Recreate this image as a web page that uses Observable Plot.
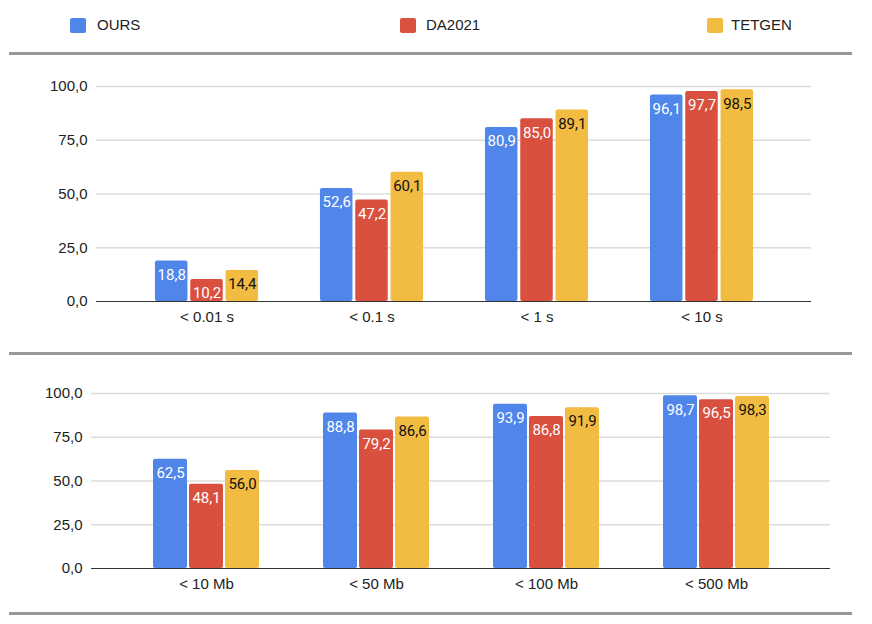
<!DOCTYPE html>
<html>
<head>
<meta charset="utf-8">
<script src="https://cdn.jsdelivr.net/npm/d3@7"></script>
<script src="https://cdn.jsdelivr.net/npm/@observablehq/plot@0.6"></script>
<style>
  html, body { margin: 0; padding: 0; background: #fff; }
  #root { position: relative; width: 872px; height: 624px; overflow: hidden; font-family: "Liberation Sans", Arial, sans-serif; }
  .sep { position: absolute; left: 9px; width: 843px; height: 3px; background: #999; }
  .leg { position: absolute; top: 18px; width: 16px; height: 15px; border-radius: 2px; }
  .legt { position: absolute; top: 16px; font-size: 15px; color: #222; line-height: 18px; }
  .panel { position: absolute; left: 0; }
</style>
</head>
<body>
<div id="root"></div>
<script>
const series = ["OURS", "DA2021", "TETGEN"];
const colors = ["#5086EA", "#D9503F", "#F2BC42"];
const labelColors = ["#ffffff", "#ffffff", "#111111"];
const yTicks = [0, 25, 50, 75, 100];

const cats1 = ["< 0.01 s", "< 0.1 s", "< 1 s", "< 10 s"];
const ours1 = [18.8, 52.6, 80.9, 96.1];
const da1 = [10.2, 47.2, 85.0, 97.7];
const tet1 = [14.4, 60.1, 89.1, 98.5];

const cats2 = ["< 10 Mb", "< 50 Mb", "< 100 Mb", "< 500 Mb"];
const ours2 = [62.5, 88.8, 93.9, 98.7];
const da2 = [48.1, 79.2, 86.8, 96.5];
const tet2 = [56.0, 86.6, 91.9, 98.3];

const fmt = d => d.toFixed(1).replace(".", ",");
const root = document.getElementById("root");

// legend
const legX = [[70, 97], [400, 426], [707, 731]];
series.forEach((s, i) => {
  const sq = document.createElement("div");
  sq.className = "leg";
  sq.style.left = legX[i][0] + "px";
  sq.style.background = colors[i];
  root.appendChild(sq);
  const t = document.createElement("div");
  t.className = "legt";
  t.style.left = legX[i][1] + "px";
  t.textContent = s;
  root.appendChild(t);
});

[52, 352, 612].forEach(y => {
  const d = document.createElement("div");
  d.className = "sep";
  d.style.top = y + "px";
  root.appendChild(d);
});

function panel(cats, valueSets, cfg) {
  const marks = [
    Plot.ruleY(yTicks.filter(t => t > 0), {stroke: "#dcdcdc", strokeWidth: 1.5})
  ];
  valueSets.forEach((vals, s) => {
    const data = cats.map((c, i) => ({cat: c, v: vals[i]}));
    const dx = (s - 1) * cfg.step;
    marks.push(Plot.barY(data, {
      x: "cat", y: "v", fill: colors[s], dx,
      insetLeft: cfg.inset, insetRight: cfg.inset, rx: 2
    }));
    marks.push(Plot.text(data, {
      x: "cat", y: "v", text: d => fmt(d.v), dx, dy: 14,
      fill: labelColors[s], fontFamily: "Roboto, sans-serif", fontSize: 15
    }));
  });
  marks.push(Plot.ruleY([0], {stroke: "#333", strokeWidth: 1.2}));
  marks.push(Plot.axisY({ticks: yTicks, tickSize: 0, tickPadding: 9, tickFormat: fmt, fontSize: 15, fill: "#222"}));
  marks.push(Plot.axisX({tickSize: 0, tickPadding: cfg.xPad, fontSize: 15, fill: "#222"}));
  return Plot.plot({
    width: 872,
    height: cfg.height,
    marginLeft: cfg.marginLeft,
    marginRight: cfg.marginRight,
    marginTop: cfg.marginTop,
    marginBottom: cfg.marginBottom,
    x: {type: "band", domain: cats, range: cfg.xRange, padding: 0, label: null},
    y: {domain: [0, 100], label: null},
    style: {fontFamily: "'Liberation Sans', Arial, sans-serif", fontSize: "15px", color: "#222", background: "transparent"},
    marks
  });
}

const p1 = panel(cats1, [ours1, da1, tet1], {
  height: 290, marginTop: 26, marginBottom: 49, marginLeft: 96, marginRight: 61,
  xRange: [123.5, 783.5], inset: 66.25, step: 35.3, xPad: 10
});
const w1 = document.createElement("div");
w1.className = "panel"; w1.style.top = "60px";
w1.appendChild(p1); root.appendChild(w1);

const p2 = panel(cats2, [ours2, da2, tet2], {
  height: 250, marginTop: 33, marginBottom: 42, marginLeft: 91, marginRight: 42,
  xRange: [120.5, 800.5], inset: 68, step: 36, xPad: 10
});
const w2 = document.createElement("div");
w2.className = "panel"; w2.style.top = "360px";
w2.appendChild(p2); root.appendChild(w2);
</script>
</body>
</html>
